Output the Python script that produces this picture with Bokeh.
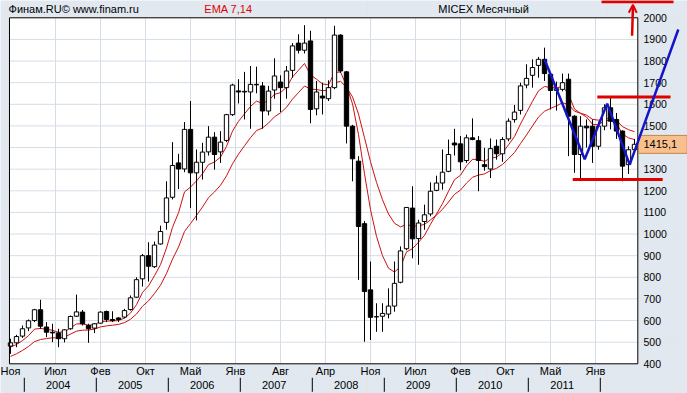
from bokeh.plotting import figure
from bokeh.models import ColumnDataSource, Range1d, Arrow, OpenHead
from bokeh.core.properties import value
from bokeh.embed import file_html
from bokeh.resources import INLINE

# ---------------- data: MICEX monthly candles, Nov 2003 .. Jul 2012 ----------------
opens = [482, 497, 528, 566, 600, 650, 570, 546, 543, 516,
         562, 620, 639, 577, 565, 588, 642, 605, 612, 616,
         651, 708, 793, 900, 849, 954, 1054, 1170, 1329, 1301,
         1484, 1283, 1332, 1380, 1448, 1380, 1433, 1552, 1662, 1657,
         1657, 1692, 1685, 1569, 1666, 1703, 1677, 1757, 1883, 1850,
         1893, 1579, 1638, 1626, 1677, 1920, 1750, 1499, 1337, 1048,
         742, 617, 620, 630, 667, 777, 932, 1120, 979, 1058,
         1093, 1202, 1236, 1290, 1421, 1417, 1340, 1445, 1432, 1321,
         1301, 1406, 1371, 1440, 1529, 1572, 1689, 1734, 1780, 1808,
         1739, 1664, 1669, 1716, 1545, 1368, 1499, 1499, 1406, 1499,
         1584, 1530, 1476, 1321, 1390]
highs = [516, 534, 577, 605, 654, 696, 593, 585, 562, 560,
         623, 720, 649, 585, 588, 643, 646, 643, 616, 654,
         716, 800, 908, 962, 965, 1039, 1244, 1425, 1371, 1518,
         1615, 1391, 1422, 1499, 1471, 1476, 1556, 1695, 1716, 1750,
         1777, 1774, 1703, 1685, 1813, 1734, 1777, 1883, 1924, 1966,
         1940, 1708, 1700, 1711, 1963, 1924, 1754, 1505, 1360, 1060,
         873, 680, 680, 749, 873, 943, 1125, 1221, 1066, 1136,
         1239, 1270, 1391, 1437, 1487, 1453, 1460, 1535, 1453, 1399,
         1442, 1437, 1448, 1535, 1597, 1700, 1785, 1808, 1819, 1862,
         1742, 1705, 1742, 1742, 1550, 1545, 1530, 1530, 1520, 1600,
         1638, 1560, 1480, 1406, 1440]
lows = [446, 477, 520, 551, 593, 562, 523, 500, 477, 499,
        557, 616, 577, 497, 542, 585, 593, 593, 593, 611,
        646, 705, 757, 780, 843, 951, 1020, 1160, 1208, 1286,
        1120, 1063, 1252, 1363, 1298, 1329, 1425, 1546, 1604, 1530,
        1487, 1651, 1487, 1549, 1626, 1564, 1626, 1723, 1835, 1835,
        1512, 1549, 1553, 1615, 1670, 1746, 1419, 1244, 788, 502,
        510, 548, 548, 610, 641, 772, 925, 888, 858, 1020,
        1082, 1198, 1205, 1286, 1363, 1295, 1329, 1434, 1198, 1293,
        1259, 1344, 1334, 1429, 1515, 1553, 1674, 1677, 1723, 1708,
        1576, 1571, 1660, 1360, 1283, 1259, 1400, 1329, 1390, 1480,
        1484, 1440, 1244, 1278, 1370]
closes = [497, 526, 562, 599, 650, 574, 546, 543, 516, 557,
          619, 640, 585, 562, 585, 639, 605, 600, 605, 646,
          705, 789, 900, 851, 949, 1012, 1167, 1317, 1301, 1484,
          1283, 1332, 1379, 1448, 1368, 1425, 1552, 1689, 1657, 1660,
          1692, 1690, 1569, 1661, 1731, 1677, 1754, 1870, 1850, 1883,
          1576, 1657, 1629, 1677, 1920, 1754, 1499, 1348, 1035, 734,
          615, 618, 633, 667, 772, 922, 1123, 978, 1051, 1089,
          1198, 1236, 1286, 1368, 1412, 1334, 1445, 1437, 1340, 1312,
          1395, 1371, 1437, 1522, 1564, 1685, 1720, 1770, 1808, 1742,
          1664, 1672, 1700, 1545, 1368, 1499, 1491, 1406, 1499, 1584,
          1522, 1476, 1314, 1390, 1415.1]

ema_periods = [7, 14]
ema_first_values = [477, 434]          # EMA values at the first visible month

month_labels = ["Ноя", "Июл", "Фев", "Окт", "Май", "Янв", "Авг",
                "Апр", "Ноя", "Июл", "Фев", "Окт", "Май", "Янв"]
year_labels = ["2004", "2005", "2006", "2007", "2008", "2009", "2010", "2011"]
y_ticks = [400, 500, 600, 700, 800, 900, 1000, 1100, 1200, 1300,
           1400, 1500, 1600, 1700, 1800, 1900, 2000]
last_price_text = "1415,1"
header_texts = ["Финам.RU©  www.finam.ru", "EMA 7,14", "MICEX Месячный"]

# hand-drawn analysis on the chart (month position, index level)
zigzag_months = [89.5, 96.2, 99.95, 103.7, 111.8]
zigzag_levels = [1808, 1346, 1603, 1321, 1946]
resistance_level = 1634
support_level = 1252

# ---------------- geometry of the picture ----------------
N_MONTHS = 105
Y_MIN, Y_MAX = 400, 2000
PX_PER_MONTH = 6.0
PX_PER_UNIT = 0.21625
X0, X1 = -7 / PX_PER_MONTH, 680 / PX_PER_MONTH
Y0, Y1 = Y_MIN - 29.7 / PX_PER_UNIT, Y_MAX + 17.3 / PX_PER_UNIT


def below(px):      # value that lies px pixels under the plot bottom
    return Y_MIN - px / PX_PER_UNIT


def above(px):      # value that lies px pixels over the plot top
    return Y_MAX + px / PX_PER_UNIT


BG = "#E1E8F0"
GRID = "#D6DDE7"
FONT = "Liberation Sans"
RED = "#E00000"
EMA_RED = "#CC1010"
BLUE = "#1414C8"

# ---------------- derived ----------------
n = len(closes)
xc = [i + 0.5 for i in range(n)]
tops = [max(o, c) for o, c in zip(opens, closes)]
bots = [min(o, c) for o, c in zip(opens, closes)]
fills = ["#FFFFFF" if c >= o else "#000000" for o, c in zip(opens, closes)]


def ema(vals, period, first):
    a = 2.0 / (period + 1)
    out = [first]
    for v in vals[1:]:
        out.append(out[-1] + a * (v - out[-1]))
    return out


ema_fast = ema(closes, ema_periods[0], ema_first_values[0])
ema_slow = ema(closes, ema_periods[1], ema_first_values[1])

src = ColumnDataSource(dict(x=xc, top=tops, bottom=bots, high=highs, low=lows,
                            fill=fills, e1=ema_fast, e2=ema_slow))

p = figure(width=687, height=393, x_range=Range1d(X0, X1), y_range=Range1d(Y0, Y1),
           output_backend="svg", toolbar_location=None,
           x_axis_location=None, y_axis_location=None, min_border=0,
           background_fill_color=BG, border_fill_color=BG, outline_line_color=None)

# plot area
LEFT, RIGHT = 0.33, N_MONTHS + 0.05
p.quad(left=LEFT, right=RIGHT, bottom=Y_MIN, top=Y_MAX, fill_color="white", line_color=None)

month_pos = [0.5 + 7.5 * k for k in range(len(month_labels))]
vg = [m for m in month_pos if m > LEFT + 0.5]
hg = [t for t in y_ticks if Y_MIN < t < Y_MAX]
p.segment(x0=vg, y0=[Y_MIN] * len(vg), x1=vg, y1=[Y_MAX] * len(vg),
          line_color=GRID, line_width=1)
p.segment(x0=[LEFT] * len(hg), y0=hg, x1=[RIGHT] * len(hg), y1=hg,
          line_color=GRID, line_width=1)

# EMA lines
p.line("x", "e1", source=src, line_color=EMA_RED, line_width=1)
p.line("x", "e2", source=src, line_color=EMA_RED, line_width=1)

# candles
p.segment("x", "low", "x", "high", source=src, line_color="black", line_width=1)
p.vbar(x="x", width=0.72, top="top", bottom="bottom", source=src,
       fill_color="fill", line_color="black", line_width=1)

# frame outline
p.quad(left=LEFT, right=RIGHT, bottom=Y_MIN, top=Y_MAX, fill_color=None,
       line_color="black", line_width=1)

# right-hand price scale (the last price box hides the label under it)
ylab = [t for t in y_ticks if abs(t - closes[-1]) > 40]
p.text(x=[RIGHT + 0.95] * len(ylab), y=ylab, text=[str(t) for t in ylab],
       text_font=value(FONT), text_font_size=value("10.5px"), text_color="black",
       text_align="left", text_baseline="middle")

# month names and years
p.text(x=month_pos, y=[below(7.5)] * len(month_pos), text=month_labels,
       text_font=value(FONT), text_font_size=value("11px"), text_color="black",
       text_align="center", text_baseline="middle")
jan_idx = [2 + 12 * k for k in range(len(year_labels) + 1)]
year_pos = [j + 6.45 for j in jan_idx[:-1]]
sep_pos = [j + 0.8 for j in jan_idx]
p.text(x=year_pos, y=[below(21.5)] * len(year_pos), text=year_labels,
       text_font=value(FONT), text_font_size=value("11px"), text_color="black",
       text_align="center", text_baseline="middle")
p.segment(x0=sep_pos, y0=[below(14)] * len(sep_pos), x1=sep_pos, y1=[below(28)] * len(sep_pos),
          line_color="black", line_width=1)

# header
p.text(x=[0.17, 32.8, 71.8], y=[above(9.3)] * 3, text=header_texts,
       text_font=value(FONT), text_font_size=value("11px"),
       text_color=["black", RED, "black"], text_align="left", text_baseline="middle")

# last price box
p.quad(left=RIGHT + 0.12, right=X1 - 0.05, bottom=closes[-1] - 42, top=closes[-1] + 41,
       fill_color="#F9BF8C", line_color="#C08850", line_width=1)
p.text(x=[RIGHT + 0.95], y=[closes[-1]], text=[last_price_text],
       text_font=value(FONT), text_font_size=value("11px"), text_color="black",
       text_align="left", text_baseline="middle")

# hand-drawn lines
p.segment(x0=[98.3, 94.2], y0=[resistance_level, support_level],
          x1=[110.5, 109.2], y1=[resistance_level, support_level],
          line_color=RED, line_width=3)
p.line(zigzag_months, zigzag_levels, line_color=BLUE, line_width=2.5)
p.add_layout(Arrow(start=None, end=OpenHead(size=8, line_color=RED, line_width=2),
                   x_start=104.1, y_start=above(-18), x_end=104.25, y_end=above(13),
                   line_color=RED, line_width=2.5))
p.segment(x0=[99.0], y0=[above(16)], x1=[111.0], y1=[above(16)],
          line_color=RED, line_width=3)

open("out.html", "w").write(file_html(p, INLINE))
